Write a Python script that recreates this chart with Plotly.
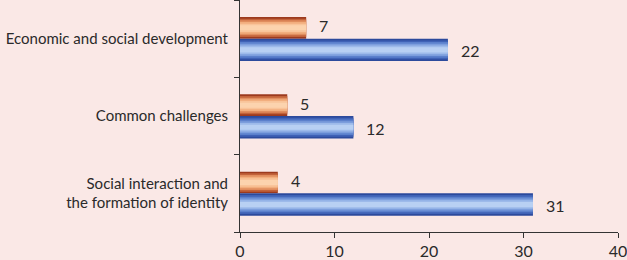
import plotly.graph_objects as go

categories = ["Social interaction and<br>the formation of identity", "Common challenges", "Economic and social development"]
series_orange = [4, 5, 7]
series_blue = [31, 12, 22]
x_ticks = [0, 10, 20, 30, 40]

bg = "#FAE8E6"
font = "Lato"
txt = "#2A2A2A"

orange_layers = ["#9C3A1E", "#C2623A", "#E08D5E", "#F2AE7E", "#F9C49A", "#FCD3AE"]
blue_layers = ["#2C4A9C", "#3F62B6", "#5B80CC", "#7C9EDD", "#9DBAEA", "#B8D0F3"]

fig = go.Figure()
W_O = 0.28
W_B = 0.29
n = len(orange_layers)
for i, col in enumerate(orange_layers):
    w = W_O * (1 - i / (n + 0.5))
    fig.add_trace(go.Bar(
        y=categories, x=series_orange, orientation="h",
        width=w, offset=(W_O - w) / 2,
        marker=dict(color=col, line=dict(width=0)),
        showlegend=False, hoverinfo="skip"))
for i, col in enumerate(blue_layers):
    w = W_B * (1 - i / (n + 0.5))
    fig.add_trace(go.Bar(
        y=categories, x=series_blue, orientation="h",
        width=w, offset=-W_B + (W_B - w) / 2,
        marker=dict(color=col, line=dict(width=0)),
        showlegend=False, hoverinfo="skip"))

cat_index = {c: k for k, c in enumerate(categories)}
for c, v in zip(categories, series_orange):
    fig.add_annotation(x=v, y=cat_index[c] + W_O / 2, text=str(v), showarrow=False,
                       xanchor="left", xshift=11, yshift=2,
                       font=dict(family=font, size=16, color=txt))
for c, v in zip(categories, series_blue):
    fig.add_annotation(x=v, y=cat_index[c] - W_B / 2, text=str(v), showarrow=False,
                       xanchor="left", xshift=11, yshift=-1,
                       font=dict(family=font, size=16, color=txt))

fig.update_layout(
    width=627, height=260,
    margin=dict(l=240, r=9, t=0, b=28),
    paper_bgcolor=bg, plot_bgcolor=bg,
    barmode="overlay",
    font=dict(family=font, size=15, color=txt),
    xaxis=dict(range=[0, 40], tickvals=x_ticks, showgrid=False, zeroline=False,
               showline=True, linecolor="#333333", linewidth=1, automargin=False,
               ticks="outside", ticklen=5, tickcolor="#333333",
               ticklabeloverflow="allow",
               tickfont=dict(family=font, size=16, color=txt)),
    yaxis=dict(type="category", categoryorder="array", categoryarray=categories,
               range=[-0.5, 2.5], showgrid=False, zeroline=False, automargin=False,
               showline=True, linecolor="#333333", linewidth=1,
               ticks="outside", ticklen=5, tickcolor="#333333", tickson="boundaries",
               ticklabelstandoff=8,
               tickfont=dict(family=font, size=15, color=txt)),
)
fig.write_html("out.html", config={"displayModeBar": False},
               post_script="document.body.style.margin='0';document.body.style.background='" + bg + "';")
